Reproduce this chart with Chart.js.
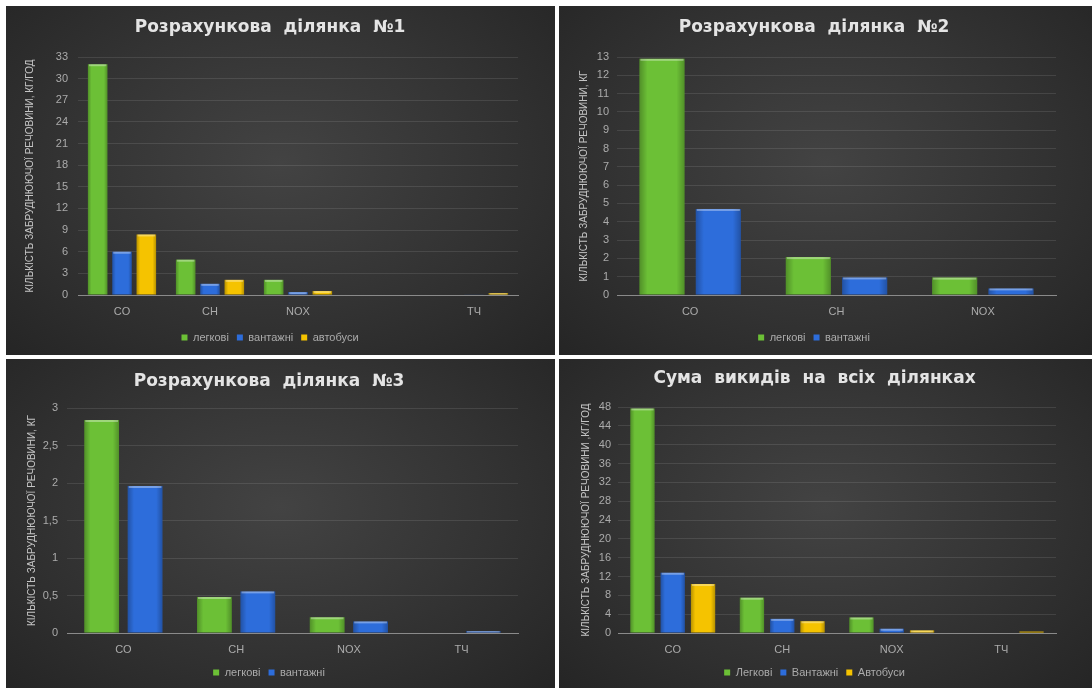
<!DOCTYPE html>
<html>
<head>
<meta charset="utf-8">
<script src="https://cdn.jsdelivr.net/npm/chart.js@4.4.1/dist/chart.umd.min.js"></script>
<style>
    html, body { margin: 0; padding: 0; background: #ffffff; }
    body { width: 1092px; height: 688px; position: relative; overflow: hidden; }
    .panel {
        position: absolute;
        background: radial-gradient(ellipse at 50% 45%, #434343 0%, #333333 55%, #252525 100%);
    }
    .panel canvas { display: block; }
</style>
</head>
<body>
<div class="panel" style="left:6px;top:6px;width:549px;height:349px"><canvas id="chart1"></canvas></div>
<div class="panel" style="left:559px;top:6px;width:533px;height:349px"><canvas id="chart2"></canvas></div>
<div class="panel" style="left:6px;top:359px;width:549px;height:329px"><canvas id="chart3"></canvas></div>
<div class="panel" style="left:559px;top:359px;width:533px;height:329px"><canvas id="chart4"></canvas></div>

<script>
// Розрахункова ділянка №1 (кг/год)
const categories1 = ['CO', 'CH', 'NOX', '', 'ТЧ'];
const cars1 = [32, 4.9, 2.1, null, 0];
const trucks1 = [6, 1.55, 0.4, null, 0.08];
const buses1 = [8.4, 2.1, 0.55, null, 0.25];

// Розрахункова ділянка №2 (кг)
const categories2 = ['CO', 'CH', 'NOX'];
const cars2 = [12.9, 2.07, 0.95];
const trucks2 = [4.7, 0.96, 0.36];

// Розрахункова ділянка №3 (кг)
const categories3 = ['CO', 'CH', 'NOX', 'ТЧ'];
const cars3 = [2.84, 0.48, 0.21, 0];
const trucks3 = [1.96, 0.555, 0.155, 0.025];

// Сума викидів на всіх ділянках (кг/год)
const categories4 = ['CO', 'CH', 'NOX', 'ТЧ'];
const carsTotal = [47.7, 7.5, 3.3, 0];
const trucksTotal = [12.8, 3.0, 0.9, 0.1];
const busesTotal = [10.4, 2.5, 0.55, 0.3];

const GREEN = '#6cc036';
const BLUE = '#2d6ddb';
const YELLOW = '#f5c300';

// darker edges + light top cap, like the Excel bevel
const bevelPlugin = {
    id: 'bevel',
    afterDatasetsDraw(chart) {
        const ctx = chart.ctx;
        chart.data.datasets.forEach((ds, i) => {
            chart.getDatasetMeta(i).data.forEach(bar => {
                const {x, y, base, width} = bar.getProps(['x', 'y', 'base', 'width'], true);
                const h = base - y;
                if (!width || h < 1) return;
                const left = x - width / 2;
                ctx.save();
                const g = ctx.createLinearGradient(left, 0, left + width, 0);
                g.addColorStop(0, 'rgba(0,0,0,0.25)');
                g.addColorStop(0.18, 'rgba(0,0,0,0)');
                g.addColorStop(0.82, 'rgba(0,0,0,0)');
                g.addColorStop(1, 'rgba(0,0,0,0.25)');
                ctx.fillStyle = g;
                ctx.fillRect(left, y, width, h);
                ctx.fillStyle = 'rgba(255,255,255,0.35)';
                ctx.fillRect(left + 1, y, width - 2, Math.min(2, h));
                ctx.restore();
            });
        });
    }
};

function createPanel(canvasId, cfg) {
    const ctx = document.getElementById(canvasId).getContext('2d');
    return new Chart(ctx, {
        type: 'bar',
        data: {
            labels: cfg.labels,
            datasets: cfg.series.map(s => ({
                label: s.label,
                data: s.data,
                backgroundColor: s.color,
                borderWidth: 0,
                categoryPercentage: cfg.catPct,
                barPercentage: 0.8
            }))
        },
        options: {
            responsive: true,
            maintainAspectRatio: false,
            animation: false,
            layout: {
                padding: {left: cfg.padLeft, right: cfg.padRight, top: 0, bottom: cfg.padBottom}
            },
            plugins: {
                title: {
                    display: true,
                    text: cfg.title,
                    color: '#e4e4e4',
                    font: {family: 'DejaVu Sans', size: 17, weight: 'bold', lineHeight: 1.2},
                    padding: {top: cfg.titleTop, bottom: cfg.titleBottom}
                },
                legend: {
                    position: 'bottom',
                    labels: {
                        color: '#ababab',
                        font: {family: 'Liberation Sans', size: 11},
                        boxWidth: 6,
                        boxHeight: 6,
                        padding: 8
                    }
                },
                tooltip: {enabled: false}
            },
            scales: {
                x: {
                    grid: {display: false, drawTicks: false},
                    border: {display: true, color: '#8a8a8a', width: 1},
                    ticks: {
                        color: '#ababab',
                        font: {family: 'Liberation Sans', size: 11},
                        padding: 10
                    },
                    afterFit: scale => { scale.height = cfg.xHeight; }
                },
                y: {
                    min: 0,
                    max: cfg.max,
                    grid: {color: 'rgba(255,255,255,0.1)', drawTicks: false},
                    border: {display: false},
                    ticks: {
                        stepSize: cfg.step,
                        color: '#ababab',
                        font: {family: 'Liberation Sans', size: 11},
                        padding: cfg.tickPad,
                        callback: v => String(v).replace('.', ',')
                    },
                    title: {
                        display: true,
                        text: cfg.yTitle,
                        color: '#c4c4c4',
                        font: {family: 'Liberation Sans', size: 10, lineHeight: 1.2},
                        padding: {top: cfg.yTitlePad, bottom: 0}
                    },
                    afterFit: scale => { scale.width = cfg.yWidth; }
                }
            }
        },
        plugins: [bevelPlugin]
    });
}

createPanel('chart1', {
    title: 'Розрахункова  ділянка  №1',
    yTitle: 'КІЛЬКІСТЬ ЗАБРУДНЮЮЧОЇ РЕЧОВИНИ, КГ/ГОД',
    labels: categories1,
    series: [
        {label: 'легкові', data: cars1, color: GREEN},
        {label: 'вантажні', data: trucks1, color: BLUE},
        {label: 'автобуси', data: buses1, color: YELLOW}
    ],
    max: 33, step: 3, catPct: 0.83,
    padLeft: 16, padRight: 37, padBottom: 2,
    yWidth: 56, yTitlePad: 2, tickPad: 10,
    titleTop: 11, titleBottom: 19.6, xHeight: 29
});

createPanel('chart2', {
    title: 'Розрахункова  ділянка  №2',
    yTitle: 'КІЛЬКІСТЬ ЗАБРУДНЮЮЧОЇ РЕЧОВИНИ, КГ',
    labels: categories2,
    series: [
        {label: 'легкові', data: cars2, color: GREEN},
        {label: 'вантажні', data: trucks2, color: BLUE}
    ],
    max: 13, step: 1, catPct: 0.77,
    padLeft: 13, padRight: 36, padBottom: 2,
    yWidth: 45, yTitlePad: 6, tickPad: 8,
    titleTop: 11, titleBottom: 19.6, xHeight: 29
});

createPanel('chart3', {
    title: 'Розрахункова  ділянка  №3',
    yTitle: 'КІЛЬКІСТЬ ЗАБРУДНЮЮЧОЇ РЕЧОВИНИ, КГ',
    labels: categories3,
    series: [
        {label: 'легкові', data: cars3, color: GREEN},
        {label: 'вантажні', data: trucks3, color: BLUE}
    ],
    max: 3, step: 0.5, catPct: 0.77,
    padLeft: 14, padRight: 37, padBottom: 0,
    yWidth: 47, yTitlePad: 6, tickPad: 9,
    titleTop: 12, titleBottom: 16.6, xHeight: 26
});

createPanel('chart4', {
    title: 'Сума  викидів  на  всіх  ділянках',
    yTitle: 'КІЛЬКІСТЬ ЗАБРУДНЮЮЧОЇ РЕЧОВИНИ ,КГ/ГОД',
    labels: categories4,
    series: [
        {label: 'Легкові', data: carsTotal, color: GREEN},
        {label: 'Вантажні', data: trucksTotal, color: BLUE},
        {label: 'Автобуси', data: busesTotal, color: YELLOW}
    ],
    max: 48, step: 4, catPct: 0.83,
    padLeft: 14, padRight: 36, padBottom: 0,
    yWidth: 45, yTitlePad: 7, tickPad: 7,
    titleTop: 9, titleBottom: 18.6, xHeight: 26
});
</script>
</body>
</html>
